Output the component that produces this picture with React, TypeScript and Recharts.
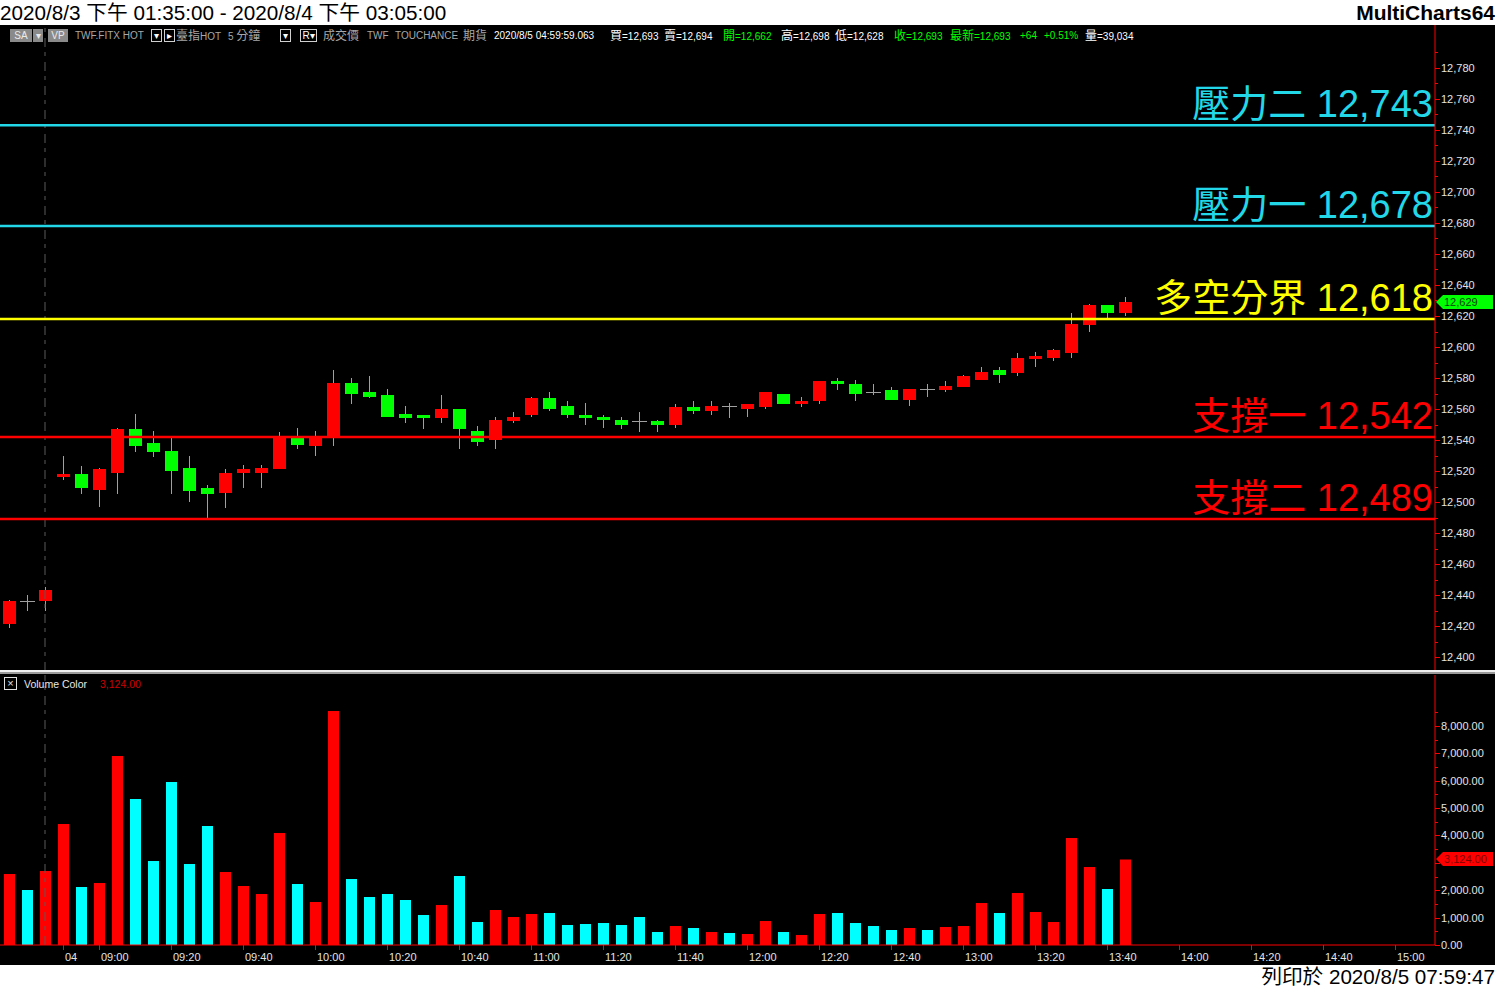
import React from 'react';
import { ComposedChart, BarChart, Bar, XAxis, YAxis, ReferenceLine, Cell } from 'recharts';

// ---------- data ----------
const times: string[] = [
  '8/3 13:35', '8/3 13:40', '8/3 13:45',
  '8/4 08:50', '8/4 08:55',
  '8/4 09:00', '8/4 09:05', '8/4 09:10', '8/4 09:15', '8/4 09:20', '8/4 09:25', '8/4 09:30', '8/4 09:35', '8/4 09:40', '8/4 09:45', '8/4 09:50', '8/4 09:55',
  '8/4 10:00', '8/4 10:05', '8/4 10:10', '8/4 10:15', '8/4 10:20', '8/4 10:25', '8/4 10:30', '8/4 10:35', '8/4 10:40', '8/4 10:45', '8/4 10:50', '8/4 10:55',
  '8/4 11:00', '8/4 11:05', '8/4 11:10', '8/4 11:15', '8/4 11:20', '8/4 11:25', '8/4 11:30', '8/4 11:35', '8/4 11:40', '8/4 11:45', '8/4 11:50', '8/4 11:55',
  '8/4 12:00', '8/4 12:05', '8/4 12:10', '8/4 12:15', '8/4 12:20', '8/4 12:25', '8/4 12:30', '8/4 12:35', '8/4 12:40', '8/4 12:45', '8/4 12:50', '8/4 12:55',
  '8/4 13:00', '8/4 13:05', '8/4 13:10', '8/4 13:15', '8/4 13:20', '8/4 13:25', '8/4 13:30', '8/4 13:35', '8/4 13:40', '8/4 13:45', '8/4 13:50', '8/4 13:55',
  '8/4 14:00', '8/4 14:05', '8/4 14:10', '8/4 14:15', '8/4 14:20', '8/4 14:25', '8/4 14:30', '8/4 14:35', '8/4 14:40', '8/4 14:45', '8/4 14:50', '8/4 14:55',
  '8/4 15:00', '8/4 15:05',
];

const opens: number[] = [
  12421, 12436, 12436,
  12516, 12518, 12508, 12519, 12547, 12538, 12533, 12522, 12509, 12506, 12519, 12519, 12521, 12541, 12536, 12541, 12577, 12571,
  12569, 12557, 12556, 12554, 12560, 12546, 12540, 12552, 12556, 12567, 12562, 12556, 12555, 12553, 12552, 12552, 12550, 12561, 12559, 12562,
  12560, 12561, 12570, 12563, 12565, 12578, 12576, 12571, 12572, 12566, 12573, 12572, 12574, 12579, 12585, 12583, 12592, 12593, 12596, 12614, 12627, 12622,
];
const highs: number[] = [
  12437, 12440, 12445,
  12530, 12523, 12522, 12548, 12557, 12546, 12541, 12530, 12511, 12521, 12524, 12524, 12545, 12548, 12546, 12585, 12580, 12581,
  12573, 12562, 12556, 12569, 12560, 12549, 12555, 12558, 12568, 12571, 12565, 12564, 12556, 12555, 12558, 12553, 12563, 12565, 12565, 12564,
  12563, 12571, 12570, 12568, 12578, 12580, 12579, 12576, 12574, 12573, 12576, 12578, 12582, 12587, 12587, 12596, 12597, 12599, 12622, 12628, 12627, 12632,
];
const lows: number[] = [
  12419, 12430, 12430,
  12514, 12505, 12497, 12505, 12532, 12529, 12505, 12500, 12490, 12496, 12509, 12509, 12521, 12534, 12530, 12536, 12563, 12567,
  12555, 12551, 12547, 12551, 12534, 12536, 12534, 12551, 12555, 12559, 12554, 12550, 12548, 12547, 12545, 12545, 12548, 12557, 12556, 12554,
  12555, 12560, 12563, 12561, 12563, 12572, 12565, 12569, 12566, 12562, 12568, 12571, 12574, 12579, 12577, 12581, 12587, 12591, 12593, 12610, 12619, 12620,
];
const closes: number[] = [
  12436, 12436, 12443,
  12518, 12509, 12521, 12547, 12536, 12532, 12520, 12507, 12505, 12519, 12521, 12522, 12542, 12537, 12541, 12577, 12570, 12568,
  12555, 12554, 12554, 12560, 12547, 12539, 12553, 12555, 12567, 12560, 12556, 12554, 12553, 12550, 12552, 12550, 12561, 12559, 12562, 12562,
  12563, 12571, 12563, 12565, 12578, 12576, 12570, 12571, 12566, 12573, 12573, 12575, 12581, 12584, 12582, 12593, 12594, 12598, 12615, 12627, 12622, 12629,
];
const volumes: number[] = [
  2594, 2009, 2703,
  4420, 2119, 2265, 6904, 5333, 3068, 5954, 2959, 4347, 2667, 2155, 1863, 4091, 2228, 1571, 8548, 2411, 1753,
  1863, 1644, 1096, 1461, 2521, 840, 1279, 1023, 1132, 1169, 731, 767, 804, 731, 1023, 475, 694, 621, 475, 438,
  402, 877, 475, 365, 1132, 1169, 804, 694, 548, 621, 548, 658, 694, 1534, 1169, 1900, 1205, 840, 3909, 2849, 2046, 3124,
];

const levelNames: string[] = ['壓力二', '壓力一', '多空分界', '支撐一', '支撐二'];
const levelValues: number[] = [12743, 12678, 12618, 12542, 12489];
const levelColors: string[] = ['#22D8E8', '#22D8E8', '#FFFF00', '#FF0000', '#FF0000'];

const priceTicks: number[] = [
  12400, 12410, 12420, 12430, 12440, 12450, 12460, 12470, 12480, 12490, 12500, 12510, 12520, 12530, 12540, 12550, 12560, 12570, 12580, 12590,
  12600, 12610, 12620, 12630, 12640, 12650, 12660, 12670, 12680, 12690, 12700, 12710, 12720, 12730, 12740, 12750, 12760, 12770, 12780, 12790,
];
const volumeTicks: number[] = [0, 500, 1000, 1500, 2000, 2500, 3000, 3500, 4000, 4500, 5000, 5500, 6000, 6500, 7000, 7500, 8000, 8500];
const volumeLabelMax = 8000;

const timeTickKeys: string[] = [
  '8/4 08:50', '8/4 09:00', '8/4 09:20', '8/4 09:40', '8/4 10:00', '8/4 10:20', '8/4 10:40', '8/4 11:00', '8/4 11:20', '8/4 11:40',
  '8/4 12:00', '8/4 12:20', '8/4 12:40', '8/4 13:00', '8/4 13:20', '8/4 13:40', '8/4 14:00', '8/4 14:20', '8/4 14:40', '8/4 15:00',
];
const timeTickLabels: string[] = [
  '04', '09:00', '09:20', '09:40', '10:00', '10:20', '10:40', '11:00', '11:20', '11:40',
  '12:00', '12:20', '12:40', '13:00', '13:20', '13:40', '14:00', '14:20', '14:40', '15:00',
];
const sessionBreak = '8/3 13:45';

const toolbarItems: { text: string; color: string }[] = [
  { text: 'TWF.FITX HOT', color: '#a8a8a8' },
  { text: '臺指HOT', color: '#a8a8a8' },
  { text: '5 分鐘', color: '#a8a8a8' },
  { text: '成交價', color: '#a8a8a8' },
  { text: 'TWF', color: '#a8a8a8' },
  { text: 'TOUCHANCE', color: '#a8a8a8' },
  { text: '期貨', color: '#a8a8a8' },
  { text: '2020/8/5 04:59:59.063', color: '#ffffff' },
  { text: '買=12,693', color: '#ffffff' },
  { text: '賣=12,694', color: '#ffffff' },
  { text: '開=12,662', color: '#00ff00' },
  { text: '高=12,698', color: '#ffffff' },
  { text: '低=12,628', color: '#ffffff' },
  { text: '收=12,693', color: '#00ff00' },
  { text: '最新=12,693', color: '#00ff00' },
  { text: '+64', color: '#00ff00' },
  { text: '+0.51%', color: '#00ff00' },
  { text: '量=39,034', color: '#ffffff' },
];
const toolbarX: number[] = [75, 176, 228, 323, 367, 395, 463, 494, 610, 664, 723, 781, 835, 894, 950, 1020, 1044, 1085];

// ---------- table ----------
const table = times.map((t, i) =>
  i < opens.length
    ? { t, open: opens[i], high: highs[i], low: lows[i], close: closes[i], range: [lows[i], highs[i]], vol: volumes[i] }
    : { t }
);

const RED = '#FF0000';
const GREEN = '#00FF00';
const CYAN = '#00FFFF';
const WICK = '#A0A0A0';
const AXIS_TEXT = '#E4E4E4';
const SANS = "'Liberation Sans', Arial, 'Noto Sans CJK TC', sans-serif";

const fmt = (v: number, d = 0) =>
  v.toLocaleString('en-US', { minimumFractionDigits: d, maximumFractionDigits: d });

const lastClose = closes[closes.length - 1];
const lastVol = volumes[volumes.length - 1];

// ---------- shapes ----------
const Candle = (props: any) => {
  const { x, y, width, height, payload } = props;
  if (!payload || payload.open == null || !isFinite(y) || !isFinite(height)) return <g />;
  const { open, close, high, low } = payload;
  const span = high - low;
  const py = (v: number) => (span === 0 ? y : y + ((high - v) / span) * height);
  const left = Math.round(x);
  const w = Math.round(width);
  const cx = Math.floor(x + width / 2) + 0.5;
  const top = Math.round(py(high));
  const bot = Math.round(py(low));
  if (open === close) {
    const yy = Math.round(py(open)) + 0.5;
    return (
      <g shapeRendering="crispEdges">
        <line x1={cx} x2={cx} y1={top} y2={bot} stroke={WICK} strokeWidth={1} />
        <line x1={left - 1} x2={left + w + 1} y1={yy} y2={yy} stroke={WICK} strokeWidth={1} />
      </g>
    );
  }
  const color = close > open ? RED : GREEN;
  const bTop = Math.round(py(Math.max(open, close)));
  const bBot = Math.max(Math.round(py(Math.min(open, close))), bTop + 2);
  return (
    <g shapeRendering="crispEdges">
      <line x1={cx} x2={cx} y1={top} y2={bot} stroke={WICK} strokeWidth={1} />
      <rect x={left} y={bTop} width={w} height={bBot - bTop} fill={color} />
    </g>
  );
};

const PriceTick = (props: any) => {
  const { x, y, payload } = props;
  const v = payload.value as number;
  const major = v % 20 === 0;
  return (
    <g>
      <line x1={x} x2={x + (major ? 5 : 3)} y1={Math.round(y) + 0.5} y2={Math.round(y) + 0.5} stroke={RED} shapeRendering="crispEdges" />
      {major && (
        <text x={x + 6} y={y + 4} fill={AXIS_TEXT} fontSize={11} fontFamily={SANS}>
          {fmt(v)}
        </text>
      )}
    </g>
  );
};

const VolTick = (props: any) => {
  const { x, y, payload } = props;
  const v = payload.value as number;
  const major = v % 1000 === 0;
  const hiddenByMarker = Math.abs(v - lastVol) < 300;
  return (
    <g>
      <line x1={x} x2={x + (major ? 5 : 3)} y1={Math.round(y) + 0.5} y2={Math.round(y) + 0.5} stroke={RED} shapeRendering="crispEdges" />
      {major && v <= volumeLabelMax && !hiddenByMarker && (
        <text x={x + 6} y={y + 4} fill={AXIS_TEXT} fontSize={11} fontFamily={SANS}>
          {fmt(v, 2)}
        </text>
      )}
    </g>
  );
};

const TimeTick = (props: any) => {
  const { x, y, payload } = props;
  const idx = timeTickKeys.indexOf(payload.value);
  if (idx < 0) return <g />;
  const xx = Math.floor(x) + 0.5;
  return (
    <g>
      <line x1={xx} x2={xx} y1={y} y2={y + 5} stroke={RED} shapeRendering="crispEdges" />
      <text x={x + 2} y={y + 16} fill={AXIS_TEXT} fontSize={11} fontFamily={SANS}>
        {timeTickLabels[idx]}
      </text>
    </g>
  );
};

const LevelLabel = (props: any) => {
  const { viewBox, name, value, color } = props;
  if (!viewBox) return <g />;
  const right = viewBox.x + viewBox.width - 2;
  return (
    <text x={right} y={viewBox.y - 8} textAnchor="end" fill={color} fontSize={38} fontFamily={SANS}>
      {`${name} ${fmt(value)}`}
    </text>
  );
};

const Marker = (props: any) => {
  const { viewBox, text, fill, textColor } = props;
  if (!viewBox) return <g />;
  const x = viewBox.x + viewBox.width;
  const y = Math.round(viewBox.y);
  return (
    <g>
      <polygon
        points={`${x + 1},${y} ${x + 8},${y - 7} ${x + 58},${y - 7} ${x + 58},${y + 7} ${x + 8},${y + 7}`}
        fill={fill}
      />
      <text x={x + 9} y={y + 4} fill={textColor} fontSize={11} fontFamily={SANS}>
        {text}
      </text>
    </g>
  );
};

// mixed text: CJK glyphs a bit larger than Latin, as in the MultiCharts status bar
const isCJK = (ch: string) => /[\u3000-\u9fff\uff00-\uffef]/.test(ch);
const MixedText = ({ text }: { text: string }) => {
  const parts: { s: string; cjk: boolean }[] = [];
  for (const ch of text) {
    const c = isCJK(ch);
    if (parts.length && parts[parts.length - 1].cjk === c) parts[parts.length - 1].s += ch;
    else parts.push({ s: ch, cjk: c });
  }
  return (
    <>
      {parts.map((p, i) => (
        <span key={i} style={{ fontSize: p.cjk ? 12 : 10 }}>{p.s}</span>
      ))}
    </>
  );
};

const Box = ({ left, width, children, fill }: any) => (
  <div
    style={{
      position: 'absolute', left, top: 29, width, height: 13, boxSizing: 'border-box',
      border: fill ? 'none' : '1px solid #d0d0d0', background: fill || '#000',
      color: fill ? '#eaeaea' : '#ffffff', fontSize: 10, lineHeight: fill ? '13px' : '11px',
      textAlign: 'center', fontFamily: SANS,
    }}
  >
    {children}
  </div>
);

export default function App() {
  return (
    <div style={{ position: 'absolute', left: 0, top: 0, width: 1495, height: 988, background: '#fff', overflow: 'hidden', fontFamily: SANS }}>
      {/* header */}
      <div style={{ position: 'absolute', left: 0, top: 0, height: 25, lineHeight: '25px', fontSize: 20.7, color: '#000', whiteSpace: 'pre' }}>
        2020/8/3 下午 01:35:00 - 2020/8/4 下午 03:05:00
      </div>
      <div style={{ position: 'absolute', right: 0, top: 0, height: 25, lineHeight: '25px', fontSize: 21, fontWeight: 'bold', color: '#000' }}>
        MultiCharts64
      </div>

      {/* black area */}
      <div style={{ position: 'absolute', left: 0, top: 25, width: 1495, height: 940, background: '#000' }} />

      {/* price panel */}
      <div style={{ position: 'absolute', left: 0, top: 25 }}>
        <ComposedChart width={1495} height={646} data={table} margin={{ top: 0, right: 0, bottom: 0, left: 0 }}>
          <XAxis dataKey="t" hide padding={{ left: 0, right: 13 }} />
          <YAxis
            orientation="right"
            width={60}
            domain={[12390.97, 12807.74]}
            allowDataOverflow
            ticks={priceTicks}
            interval={0}
            tickSize={0}
            tickMargin={0}
            tickLine={false}
            axisLine={{ stroke: RED, strokeWidth: 1 }}
            tick={<PriceTick />}
          />
          <ReferenceLine x={sessionBreak} stroke="#5a5a5a" strokeDasharray="9 6 4 5" />
          {levelValues.map((v, i) => (
            <ReferenceLine
              key={i}
              y={v}
              stroke={levelColors[i]}
              strokeWidth={2.5}
              label={(p: any) => <LevelLabel {...p} name={levelNames[i]} value={v} color={levelColors[i]} />}
            />
          ))}
          <Bar dataKey="range" barSize={13} shape={<Candle />} isAnimationActive={false} />
          <ReferenceLine
            y={lastClose}
            stroke="none"
            label={(p: any) => <Marker {...p} text={fmt(lastClose)} fill={GREEN} textColor="#0b3d0b" />}
          />
        </ComposedChart>
      </div>

      {/* toolbar */}
      <Box left={10} width={22} fill="#8a8a8a">SA</Box>
      <Box left={33} width={10} fill="#8a8a8a">▾</Box>
      <Box left={48} width={20} fill="#8a8a8a">VP</Box>
      <Box left={151} width={11}>▾</Box>
      <Box left={164} width={11}>▸</Box>
      <Box left={280} width={11}>▾</Box>
      <Box left={300} width={17}>R▾</Box>
      {toolbarItems.map((it, i) => (
        <div
          key={i}
          style={{ position: 'absolute', left: toolbarX[i], top: 29, lineHeight: '14px', fontSize: 10, color: it.color, whiteSpace: 'pre' }}
        >
          <MixedText text={it.text} />
        </div>
      ))}

      {/* separator */}
      <div style={{ position: 'absolute', left: 0, top: 670, width: 1495, height: 2, background: '#f0f0f0' }} />
      <div style={{ position: 'absolute', left: 0, top: 672, width: 1495, height: 2, background: '#9a9a9a' }} />

      {/* volume panel */}
      <div style={{ position: 'absolute', left: 0, top: 675 }}>
        <BarChart width={1495} height={290} data={table} margin={{ top: 0, right: 0, bottom: 0, left: 0 }}>
          <XAxis
            dataKey="t"
            height={20}
            interval={0}
            padding={{ left: 0, right: 13 }}
            tickSize={0}
            tickMargin={0}
            tickLine={false}
            axisLine={{ stroke: RED, strokeWidth: 1 }}
            tick={<TimeTick />}
          />
          <YAxis
            orientation="right"
            width={60}
            domain={[0, 9863]}
            allowDataOverflow
            ticks={volumeTicks}
            interval={0}
            tickSize={0}
            tickMargin={0}
            tickLine={false}
            axisLine={{ stroke: RED, strokeWidth: 1 }}
            tick={<VolTick />}
          />
          <ReferenceLine x={sessionBreak} stroke="#5a5a5a" strokeDasharray="9 6 4 5" />
          <Bar dataKey="vol" barSize={11} isAnimationActive={false}>
            {table.map((d: any, i) => (
              <Cell key={i} fill={d.close > d.open ? RED : CYAN} />
            ))}
          </Bar>
          <ReferenceLine
            y={lastVol}
            stroke="none"
            label={(p: any) => <Marker {...p} text={fmt(lastVol, 2)} fill={RED} textColor="#7a0000" />}
          />
        </BarChart>
      </div>

      {/* volume legend */}
      <div style={{ position: 'absolute', left: 4, top: 677, width: 13, height: 13, boxSizing: 'border-box', border: '1px solid #e0e0e0', color: '#e0e0e0', fontSize: 11, lineHeight: '11px', textAlign: 'center' }}>
        ×
      </div>
      <div style={{ position: 'absolute', left: 24, top: 677, lineHeight: '14px', fontSize: 10.5, color: '#e8e8e8' }}>Volume Color</div>
      <div style={{ position: 'absolute', left: 100, top: 677, lineHeight: '14px', fontSize: 10.5, color: '#d00000' }}>{fmt(lastVol, 2)}</div>

      {/* footer */}
      <div style={{ position: 'absolute', right: 0, top: 965, height: 23, lineHeight: '24px', fontSize: 20.6, color: '#000', whiteSpace: 'pre' }}>
        列印於 2020/8/5 07:59:47
      </div>
    </div>
  );
}
